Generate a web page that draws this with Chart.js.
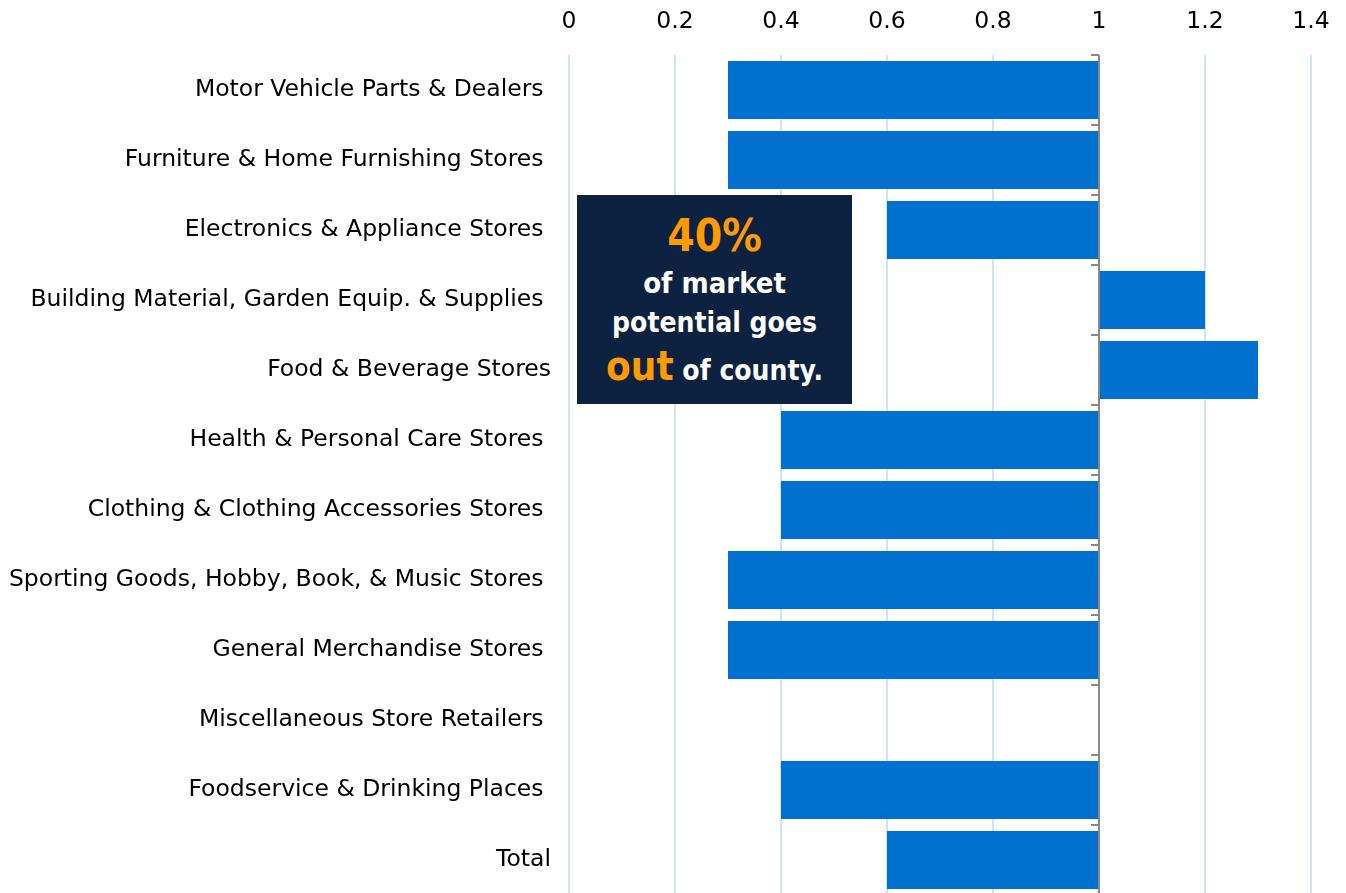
<!DOCTYPE html>
<html>
<head>
<meta charset="utf-8">
<script src="https://cdn.jsdelivr.net/npm/chart.js@4.4.1/dist/chart.umd.min.js"></script>
<style>
  html, body { margin: 0; padding: 0; overflow: hidden; background: #fff; }
  #wrap { position: relative; width: 1346px; height: 900px; }
  #c { display: block; }
  #note {
    position: absolute; left: 577px; top: 195px; width: 275px; height: 209px;
    background: #0d2240; color: #fff; text-align: center;
    font-family: "DejaVu Sans Condensed", "DejaVu Sans", sans-serif; font-weight: bold;
    box-sizing: border-box; padding-top: 14px;
  }
  #note .big { color: #ff9a00; font-size: 44px; line-height: 54px; display: block; }
  #note .line { font-size: 28px; line-height: 40px; display: block; white-space: nowrap; }
  #note .wide { font-size: 29px; }
  #note .last { line-height: 46px; }
  #note .out { color: #ff9a00; font-size: 40px; }
</style>
</head>
<body>
<div id="wrap">
  <canvas id="c" width="1346" height="900"></canvas>
  <div id="note">
    <span class="big">40%</span>
    <span class="line wide">of market</span>
    <span class="line">potential goes</span>
    <span class="line last"><span class="out">out</span> of county.</span>
  </div>
</div>
<script>
const categories = [
  "Motor Vehicle Parts & Dealers ",
  "Furniture & Home Furnishing Stores ",
  "Electronics & Appliance Stores ",
  "Building Material, Garden Equip. & Supplies ",
  "Food & Beverage Stores",
  "Health & Personal Care Stores ",
  "Clothing & Clothing Accessories Stores ",
  "Sporting Goods, Hobby, Book, & Music Stores ",
  "General Merchandise Stores ",
  "Miscellaneous Store Retailers ",
  "Foodservice & Drinking Places ",
  "Total"
];
const barStart = [0.3, 0.3, 0.6, 1, 1, 0.4, 0.4, 0.3, 0.3, null, 0.4, 0.6];
const barEnd   = [1,   1,   1,   1.2, 1.3, 1, 1, 1, 1, null, 1, 1];
const xTicks = [0, 0.2, 0.4, 0.6, 0.8, 1, 1.2, 1.4];

const FONT = "'DejaVu Sans', sans-serif";

const refLine = {
  id: 'refLine',
  afterDatasetsDraw(chart) {
    const x = chart.scales.x, y = chart.scales.y;
    const ctx = chart.ctx;
    const px = Math.round(x.getPixelForValue(1));
    ctx.save();
    ctx.strokeStyle = '#868a8e';
    ctx.lineWidth = 2;
    ctx.beginPath();
    ctx.moveTo(px, chart.chartArea.top);
    ctx.lineTo(px, chart.chartArea.bottom);
    ctx.stroke();
    const n = categories.length;
    for (let i = 0; i <= n; i++) {
      const yy = Math.round(y.getPixelForValue(i - 0.5));
      ctx.beginPath();
      ctx.moveTo(px - 8, yy);
      ctx.lineTo(px, yy);
      ctx.stroke();
    }
    ctx.restore();
  }
};

new Chart(document.getElementById('c'), {
  type: 'bar',
  data: {
    labels: categories,
    datasets: [{
      data: barStart.map((s, i) => s === null ? null : [s, barEnd[i]]),
      backgroundColor: '#0071ce',
      borderWidth: 0,
      barPercentage: 0.83,
      categoryPercentage: 1.0
    }]
  },
  options: {
    indexAxis: 'y',
    responsive: false,
    maintainAspectRatio: false,
    animation: false,
    layout: { padding: { top: 0, right: 35, bottom: 5, left: 0 } },
    plugins: { legend: { display: false }, tooltip: { enabled: false } },
    scales: {
      x: {
        position: 'top',
        min: 0, max: 1.4,
        afterBuildTicks(s) { s.ticks = xTicks.map(v => ({ value: v })); },
        afterFit(s) { s.paddingLeft = 0; s.paddingRight = 0; s.height = 55; },
        ticks: {
          color: '#000', padding: 18.6,
          font: { family: FONT, size: 23.5 },
          callback: v => String(+(+v).toFixed(1))
        },
        grid: { color: '#cfe4f1', lineWidth: 2, drawTicks: false },
        border: { display: false }
      },
      y: {
        afterFit(s) { s.paddingTop = 0; s.paddingBottom = 0; s.width = 569; },
        ticks: {
          color: '#000', padding: 18,
          font: { family: FONT, size: 23.5 }
        },
        grid: { display: false, drawTicks: false },
        border: { display: false }
      }
    }
  },
  plugins: [refLine]
});
</script>
</body>
</html>
